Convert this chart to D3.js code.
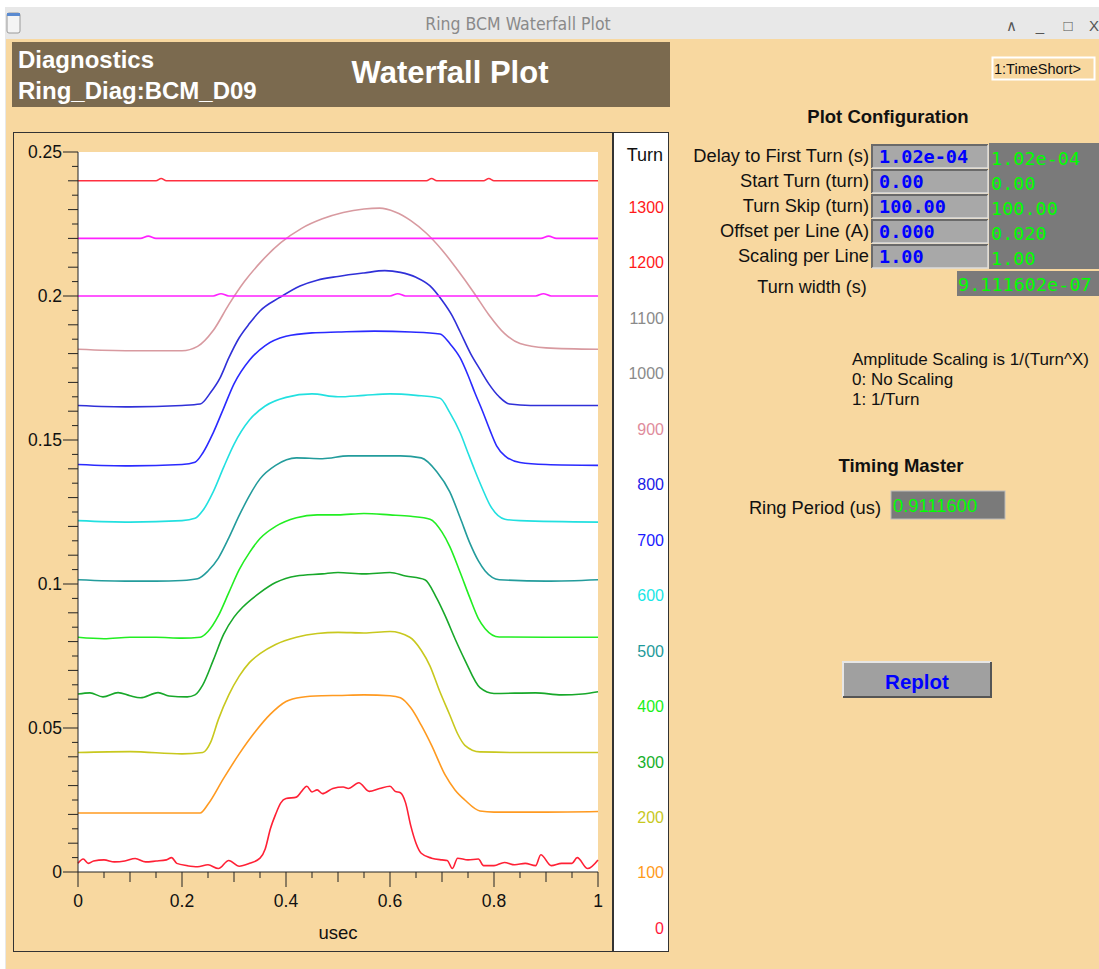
<!DOCTYPE html>
<html>
<head>
<meta charset="utf-8">
<script src="https://cdn.jsdelivr.net/npm/d3@7"></script>
<style>
  body { margin: 0; background: #ffffff; }
</style>
</head>
<body>
<div id="chart"></div>
<script>
// turn labels shown in the right hand column, top to bottom
var turns = [1300, 1200, 1100, 1000, 900, 800, 700, 600, 500, 400, 300, 200, 100, 0];
var turnColors = ["#ff1a1a", "#ff1a1a", "#8a8a8a", "#8a8a8a", "#e08c9c", "#1a1ae6", "#1a1aff",
                  "#19e6e6", "#1e9a9a", "#19f019", "#16b02a", "#c8c81e", "#ff9a1a", "#ff1a3c"];

var xTicks = [0, 0.2, 0.4, 0.6, 0.8, 1];
var yTicks = [0, 0.05, 0.1, 0.15, 0.2, 0.25];

// traces: [usec, amplitude]
var turn0 = [[0,0.003],[0.01,0.0045],[0.02,0.003],[0.03,0.0038],[0.05,0.0042],[0.07,0.0035],[0.09,0.0038],[0.11,0.0047],[0.13,0.0035],[0.15,0.0038],[0.17,0.0042],[0.18,0.005],[0.19,0.003],[0.21,0.0022],[0.23,0.0018],[0.25,0.0025],[0.27,0.0012],[0.29,0.004],[0.31,0.002],[0.33,0.003],[0.35,0.0048],[0.36,0.008],[0.37,0.015],[0.38,0.02],[0.39,0.024],[0.40,0.0255],[0.42,0.026],[0.43,0.028],[0.44,0.0298],[0.45,0.0278],[0.46,0.0285],[0.47,0.0272],[0.49,0.029],[0.51,0.0295],[0.52,0.029],[0.54,0.031],[0.56,0.028],[0.58,0.029],[0.60,0.0298],[0.61,0.028],[0.62,0.0275],[0.63,0.024],[0.64,0.016],[0.65,0.01],[0.66,0.0065],[0.68,0.0048],[0.70,0.0042],[0.71,0.004],[0.72,0.0012],[0.73,0.0048],[0.75,0.0042],[0.77,0.0045],[0.78,0.0022],[0.80,0.0022],[0.82,0.0033],[0.84,0.0025],[0.86,0.003],[0.88,0.0022],[0.89,0.006],[0.91,0.0022],[0.93,0.003],[0.95,0.003],[0.96,0.005],[0.98,0.0012],[1,0.0042]];
var turn100 = [[0,0.0205],[0.1,0.0205],[0.2,0.0205],[0.235,0.0205],[0.25,0.0235],[0.28,0.0325],[0.31,0.041],[0.34,0.0485],[0.37,0.0548],[0.40,0.0592],[0.43,0.0607],[0.47,0.0612],[0.5,0.0613],[0.55,0.0615],[0.6,0.0612],[0.62,0.0605],[0.64,0.057],[0.66,0.051],[0.68,0.044],[0.706,0.0337],[0.725,0.0285],[0.744,0.025],[0.773,0.0212],[0.8,0.0208],[0.9,0.0208],[1,0.021]];
var turn200 = [[0,0.0415],[0.1,0.0418],[0.2,0.041],[0.24,0.0415],[0.255,0.045],[0.27,0.053],[0.29,0.0615],[0.31,0.068],[0.33,0.0728],[0.35,0.0758],[0.38,0.079],[0.42,0.0815],[0.46,0.0828],[0.5,0.0832],[0.55,0.083],[0.6,0.0835],[0.638,0.0815],[0.66,0.077],[0.677,0.0715],[0.695,0.063],[0.715,0.0545],[0.73,0.048],[0.744,0.044],[0.773,0.0417],[0.85,0.0415],[1,0.0415]];
var turn300 = [[0,0.0618],[0.023,0.0622],[0.048,0.0608],[0.077,0.0623],[0.1,0.0612],[0.12,0.0605],[0.154,0.0623],[0.175,0.0611],[0.21,0.0608],[0.225,0.0615],[0.24,0.065],[0.26,0.0735],[0.28,0.0825],[0.30,0.0885],[0.317,0.092],[0.35,0.097],[0.38,0.1005],[0.42,0.1028],[0.47,0.1035],[0.5,0.104],[0.55,0.1035],[0.6,0.104],[0.63,0.1028],[0.667,0.1015],[0.69,0.095],[0.706,0.089],[0.725,0.081],[0.744,0.0736],[0.773,0.064],[0.8,0.062],[0.88,0.0622],[0.93,0.0615],[0.97,0.0618],[1,0.0626]];
var turn400 = [[0,0.0815],[0.05,0.081],[0.1,0.0815],[0.15,0.0815],[0.2,0.0812],[0.235,0.0815],[0.25,0.0835],[0.27,0.089],[0.29,0.097],[0.31,0.105],[0.33,0.111],[0.35,0.1158],[0.38,0.12],[0.42,0.123],[0.46,0.124],[0.5,0.124],[0.55,0.1245],[0.6,0.124],[0.64,0.1235],[0.677,0.1225],[0.70,0.118],[0.715,0.113],[0.735,0.104],[0.754,0.095],[0.77,0.088],[0.783,0.0845],[0.81,0.0816],[0.9,0.0815],[1,0.0815]];
var turn500 = [[0,0.1015],[0.1,0.101],[0.15,0.101],[0.2,0.1012],[0.23,0.1018],[0.25,0.1045],[0.27,0.109],[0.29,0.116],[0.31,0.1238],[0.33,0.1308],[0.35,0.1365],[0.38,0.1412],[0.42,0.1438],[0.47,0.1435],[0.52,0.1445],[0.57,0.1445],[0.62,0.1445],[0.66,0.1438],[0.69,0.139],[0.715,0.132],[0.735,0.123],[0.754,0.114],[0.77,0.108],[0.783,0.1045],[0.81,0.1015],[0.9,0.101],[1,0.1015]];
var turn600 = [[0,0.122],[0.1,0.1215],[0.2,0.122],[0.225,0.1228],[0.24,0.1255],[0.26,0.132],[0.28,0.1405],[0.30,0.1485],[0.33,0.157],[0.36,0.1618],[0.40,0.1648],[0.45,0.166],[0.5,0.165],[0.55,0.1655],[0.6,0.166],[0.65,0.1655],[0.696,0.1645],[0.715,0.1595],[0.735,0.1525],[0.75,0.1455],[0.763,0.1395],[0.778,0.133],[0.792,0.1275],[0.821,0.1225],[0.85,0.122],[1,0.1215]];
var turn700 = [[0,0.1415],[0.1,0.141],[0.2,0.1415],[0.225,0.1423],[0.24,0.1455],[0.26,0.1525],[0.28,0.161],[0.30,0.1695],[0.33,0.1778],[0.36,0.1828],[0.40,0.186],[0.45,0.1872],[0.5,0.1875],[0.57,0.1878],[0.64,0.1875],[0.696,0.1868],[0.715,0.1835],[0.735,0.1785],[0.75,0.1725],[0.763,0.1665],[0.778,0.16],[0.792,0.1535],[0.805,0.148],[0.821,0.1445],[0.85,0.1422],[0.9,0.1415],[1,0.1412]];
var turn800 = [[0,0.162],[0.1,0.1615],[0.2,0.162],[0.235,0.1625],[0.255,0.1665],[0.273,0.1715],[0.29,0.1785],[0.31,0.1855],[0.33,0.1905],[0.35,0.1948],[0.388,0.1995],[0.427,0.2035],[0.46,0.2055],[0.5,0.2068],[0.55,0.208],[0.59,0.2088],[0.62,0.2082],[0.65,0.2065],[0.677,0.2035],[0.7,0.1985],[0.72,0.193],[0.735,0.1875],[0.755,0.18],[0.773,0.1745],[0.79,0.1695],[0.81,0.165],[0.83,0.1625],[0.87,0.162],[1,0.162]];
var turn900 = [[0,0.1815],[0.1,0.181],[0.2,0.181],[0.23,0.1825],[0.26,0.188],[0.29,0.197],[0.32,0.205],[0.35,0.2115],[0.39,0.2185],[0.43,0.2235],[0.47,0.2268],[0.51,0.229],[0.55,0.2302],[0.58,0.2305],[0.61,0.2292],[0.64,0.2262],[0.67,0.2218],[0.70,0.216],[0.73,0.209],[0.76,0.2015],[0.79,0.1935],[0.82,0.187],[0.85,0.1835],[0.9,0.182],[1,0.1815]];
var turn1000 = [[0,0.2],[0.26,0.2],[0.275,0.2008],[0.29,0.2],[0.6,0.2],[0.615,0.2008],[0.63,0.2],[0.88,0.2],[0.895,0.2008],[0.91,0.2],[1,0.2]];
var turn1100 = [[0,0.22],[0.12,0.22],[0.135,0.2208],[0.15,0.22],[0.89,0.22],[0.905,0.2208],[0.92,0.22],[1,0.22]];
var turn1200 = [[0,0.24],[0.15,0.24],[0.16,0.2408],[0.17,0.24],[0.67,0.24],[0.68,0.2408],[0.69,0.24],[0.78,0.24],[0.79,0.2408],[0.8,0.24],[1,0.24]];

var traces = [turn0, turn100, turn200, turn300, turn400, turn500, turn600, turn700, turn800, turn900, turn1000, turn1100, turn1200];
var traceColors = ["#ff2035", "#ff9a20", "#c8c81e", "#18a82a", "#22ee22", "#239c9c", "#22e0e0", "#2a2aff",
                   "#3030d8", "#d89aa0", "#ff22ff", "#ff22ff", "#ff3040"];

var sans = "'Liberation Sans', Arial, sans-serif";
var mono = "'DejaVu Sans Mono', 'Liberation Mono', monospace";

var svg = d3.select("#chart").append("svg")
  .attr("width", 1099)
  .attr("height", 969)
  .attr("font-family", sans);

// window + title bar
svg.append("rect").attr("x", 0).attr("y", 0).attr("width", 1099).attr("height", 969).attr("fill", "#ffffff");
svg.append("rect").attr("x", 5).attr("y", 7).attr("width", 1094).attr("height", 962).attr("fill", "#e8e8e8");
svg.append("rect").attr("x", 6).attr("y", 39).attr("width", 1093).attr("height", 930).attr("fill", "#f8d8a0");
svg.append("rect").attr("x", 7).attr("y", 13).attr("width", 13).attr("height", 20).attr("rx", 2)
  .attr("fill", "#f4f4f4").attr("stroke", "#9a9a9a");
svg.append("rect").attr("x", 7).attr("y", 13).attr("width", 13).attr("height", 3).attr("fill", "#5a8ad0");
svg.append("text").attr("x", 518).attr("y", 30).attr("text-anchor", "middle")
  .attr("font-family", "'DejaVu Sans Condensed', 'DejaVu Sans', sans-serif")
  .attr("font-stretch", "condensed")
  .attr("font-size", 17.5).attr("fill", "#8a8a8a").text("Ring BCM Waterfall Plot");
[["\u2227", 1011], ["_", 1040], ["\u25A1", 1068], ["X", 1094]].forEach(function(ic) {
  svg.append("text").attr("x", ic[1]).attr("y", 31).attr("text-anchor", "middle")
    .attr("font-size", 15).attr("fill", "#555").text(ic[0]);
});

// header
svg.append("rect").attr("x", 12).attr("y", 42).attr("width", 658).attr("height", 65).attr("fill", "#7b6a4f");
svg.append("text").attr("x", 18).attr("y", 68).attr("font-size", 24).attr("font-weight", "bold")
  .attr("fill", "#fff").text("Diagnostics");
svg.append("text").attr("x", 18).attr("y", 99).attr("font-size", 24).attr("font-weight", "bold")
  .attr("fill", "#fff").text("Ring_Diag:BCM_D09");
svg.append("text").attr("x", 450).attr("y", 83).attr("text-anchor", "middle").attr("font-size", 31)
  .attr("font-weight", "bold").attr("fill", "#fff").text("Waterfall Plot");

// plot frame and legend column
svg.append("rect").attr("x", 13.5).attr("y", 132.5).attr("width", 599).attr("height", 819)
  .attr("fill", "#f8d8a0").attr("stroke", "#333");
svg.append("rect").attr("x", 613.5).attr("y", 132.5).attr("width", 55).attr("height", 819)
  .attr("fill", "#fff").attr("stroke", "#333");

var margin = { left: 78, top: 152 };
var width = 520, height = 720;

var x = d3.scaleLinear().domain([0, 1]).range([0, width]);
var y = d3.scaleLinear().domain([0, 0.25]).range([height, 0]);

var chartGroup = svg.append("g").attr("transform", `translate(${margin.left}, ${margin.top})`);
chartGroup.append("rect").attr("width", width).attr("height", height).attr("fill", "#fff");

var line = d3.line()
  .x(d => x(d[0]))
  .y(d => y(d[1]))
  .curve(d3.curveMonotoneX);

chartGroup.selectAll(".trace")
  .data(traces)
  .enter()
  .append("path")
  .attr("class", "trace")
  .attr("d", line)
  .attr("fill", "none")
  .attr("stroke", (d, i) => traceColors[i])
  .attr("stroke-width", 1.6);

// axes with graded tick lengths
function tickLen(v, step, major) {
  if (Math.abs(v / major - Math.round(v / major)) < 1e-6) return 15;
  if (Math.abs(v / (step * 2) - Math.round(v / (step * 2))) < 1e-6) return 10;
  return 6;
}

var yAxis = chartGroup.append("g");
yAxis.append("line").attr("x1", 0).attr("x2", 0).attr("y1", 0).attr("y2", height).attr("stroke", "#222");
yAxis.selectAll("line.tk").data(d3.range(0, 51).map(i => i * 0.005)).enter().append("line")
  .attr("class", "tk")
  .attr("x1", d => -tickLen(d, 0.005, 0.05)).attr("x2", 0)
  .attr("y1", d => y(d)).attr("y2", d => y(d)).attr("stroke", "#222");
yAxis.selectAll("text").data(yTicks).enter().append("text")
  .attr("x", -16).attr("y", d => y(d) + 6).attr("text-anchor", "end")
  .attr("font-size", 17.5).attr("fill", "#111").text(d => d3.format("")(d));

var xAxis = chartGroup.append("g").attr("transform", `translate(0, ${height})`);
xAxis.append("line").attr("x1", 0).attr("x2", width).attr("stroke", "#222");
xAxis.selectAll("line.tk").data(d3.range(0, 21).map(i => i * 0.05)).enter().append("line")
  .attr("class", "tk")
  .attr("y1", 0).attr("y2", d => tickLen(d, 0.05, 0.2))
  .attr("x1", d => x(d)).attr("x2", d => x(d)).attr("stroke", "#222");
xAxis.selectAll("text").data(xTicks).enter().append("text")
  .attr("x", d => x(d)).attr("y", 35).attr("text-anchor", "middle")
  .attr("font-size", 17.5).attr("fill", "#111").text(d => d3.format("")(d));
xAxis.append("text").attr("x", width / 2).attr("y", 67).attr("text-anchor", "middle")
  .attr("font-size", 18.5).attr("fill", "#111").text("usec");

// turn legend
var legend = svg.append("g");
legend.append("text").attr("x", 663).attr("y", 161).attr("text-anchor", "end")
  .attr("font-size", 18).attr("fill", "#111").text("Turn");
legend.selectAll("text.turn").data(turns).enter().append("text")
  .attr("class", "turn")
  .attr("x", 664).attr("y", (d, i) => 213 + i * 55.45).attr("text-anchor", "end")
  .attr("font-size", 16).attr("fill", (d, i) => turnColors[i]).text(d => d);

// right panel
var panel = svg.append("g");
panel.append("rect").attr("x", 992.5).attr("y", 57.5).attr("width", 102).attr("height", 22)
  .attr("fill", "#f8d8a0").attr("stroke", "#fff").attr("stroke-width", 2);
panel.append("text").attr("x", 994).attr("y", 74).attr("font-size", 14.5).attr("fill", "#111").text("1:TimeShort>");

panel.append("text").attr("x", 888).attr("y", 123).attr("text-anchor", "middle").attr("font-size", 18.5)
  .attr("font-weight", "bold").attr("fill", "#111").text("Plot Configuration");

var cfgLabels = ["Delay to First Turn (s)", "Start Turn (turn)", "Turn Skip (turn)", "Offset per Line (A)", "Scaling per Line"];
var cfgSet = ["1.02e-04", "0.00", "100.00", "0.000", "1.00"];
var cfgRead = ["1.02e-04", "0.00", "100.00", "0.020", "1.00"];

panel.append("rect").attr("x", 989).attr("y", 143).attr("width", 110).attr("height", 126).attr("fill", "#7a7a7a");
cfgLabels.forEach(function(lbl, i) {
  var yy = 145 + i * 25;
  panel.append("text").attr("x", 869).attr("y", yy + 17).attr("text-anchor", "end")
    .attr("font-size", 18.3).attr("fill", "#111").text(lbl);
  panel.append("rect").attr("x", 872).attr("y", yy).attr("width", 116).attr("height", 23).attr("fill", "#a8a8a8");
  panel.append("path").attr("d", `M872,${yy + 23} L872,${yy} L988,${yy}`).attr("fill", "none")
    .attr("stroke", "#6a6a6a").attr("stroke-width", 2);
  panel.append("path").attr("d", `M872,${yy + 23} L988,${yy + 23} L988,${yy}`).attr("fill", "none")
    .attr("stroke", "#dcdcdc").attr("stroke-width", 1.5);
  panel.append("text").attr("x", 879).attr("y", yy + 18).attr("font-size", 18.5).attr("font-weight", "bold")
    .attr("font-family", mono).attr("fill", "#0000ff").text(cfgSet[i]);
  panel.append("text").attr("x", 991).attr("y", yy + 20).attr("font-size", 18.5)
    .attr("font-family", mono).attr("fill", "#00ff00").text(cfgRead[i]);
});

panel.append("text").attr("x", 812).attr("y", 293).attr("text-anchor", "middle").attr("font-size", 18)
  .attr("fill", "#111").text("Turn width (s)");
panel.append("rect").attr("x", 957).attr("y", 271).attr("width", 142).attr("height", 25).attr("fill", "#7a7a7a");
panel.append("text").attr("x", 958).attr("y", 291).attr("font-size", 18.5)
  .attr("font-family", mono).attr("fill", "#00ff00").text("9.111602e-07");

var ampLines = ["Amplitude Scaling is 1/(Turn^X)", "0: No Scaling", "1: 1/Turn"];
panel.selectAll("text.amp").data(ampLines).enter().append("text").attr("class", "amp")
  .attr("x", 852).attr("y", (d, i) => 365 + i * 20).attr("font-size", 17).attr("fill", "#111").text(d => d);

panel.append("text").attr("x", 901).attr("y", 472).attr("text-anchor", "middle").attr("font-size", 18.5)
  .attr("font-weight", "bold").attr("fill", "#111").text("Timing Master");
panel.append("text").attr("x", 881).attr("y", 514).attr("text-anchor", "end").attr("font-size", 18.3)
  .attr("fill", "#111").text("Ring Period (us)");
panel.append("rect").attr("x", 891).attr("y", 491).attr("width", 114).attr("height", 28)
  .attr("fill", "#7a7a7a").attr("stroke", "#bbb");
panel.append("text").attr("x", 893).attr("y", 512).attr("font-size", 18.4).attr("fill", "#00ff00").text("0.9111600");

// replot button
panel.append("rect").attr("x", 843).attr("y", 662).attr("width", 148).attr("height", 35).attr("fill", "#a0a0a0");
panel.append("path").attr("d", "M843,697 L843,662 L991,662").attr("fill", "none").attr("stroke", "#e6e6e6").attr("stroke-width", 2);
panel.append("path").attr("d", "M843,697 L991,697 L991,662").attr("fill", "none").attr("stroke", "#555").attr("stroke-width", 2);
panel.append("text").attr("x", 917).attr("y", 689).attr("text-anchor", "middle").attr("font-size", 20.5)
  .attr("font-weight", "bold").attr("fill", "#0000ff").text("Replot");
</script>
</body>
</html>
